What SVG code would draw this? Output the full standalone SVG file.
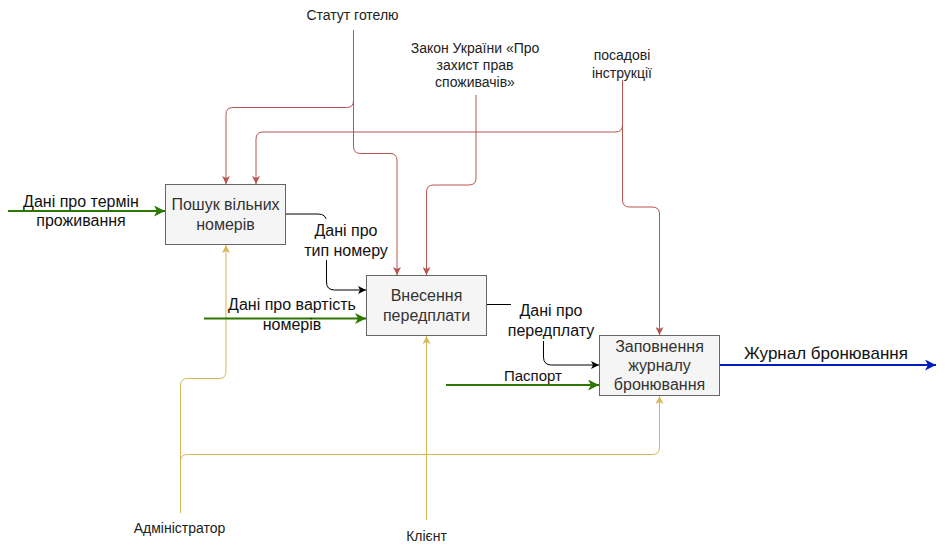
<svg xmlns="http://www.w3.org/2000/svg" width="945" height="552" viewBox="0 0 945 552">
<style>
text{font-family:"Liberation Sans",Arial,Helvetica,sans-serif;text-anchor:middle}
.box{fill:#f5f5f5;stroke:#666666;stroke-width:1}
.bt{font-size:16px;fill:#333333}
.lb{font-size:16px;fill:#111111}
.sm{font-size:14px;fill:#222222}
.red{fill:none;stroke:#b85450;stroke-width:1}
.yel{fill:none;stroke:#d6b656;stroke-width:1}
.grn{fill:none;stroke:#2d7600;stroke-width:2}
.blu{fill:none;stroke:#001dbc;stroke-width:2}
.blk{fill:none;stroke:#000000;stroke-width:1}
</style>
<defs>
<marker id="ar" viewBox="0 0 8 8" markerWidth="8" markerHeight="8" refX="8" refY="4" orient="auto" markerUnits="userSpaceOnUse"><path d="M0,0 L8,4 L0,8 L2,4 z" fill="#b85450"/></marker>
<marker id="ay" viewBox="0 0 8 8" markerWidth="8" markerHeight="8" refX="8" refY="4" orient="auto" markerUnits="userSpaceOnUse"><path d="M0,0 L8,4 L0,8 L2,4 z" fill="#d6b656"/></marker>
<marker id="ak" viewBox="0 0 8 8" markerWidth="8" markerHeight="8" refX="8" refY="4" orient="auto" markerUnits="userSpaceOnUse"><path d="M0,0 L8,4 L0,8 L2,4 z" fill="#000000"/></marker>
<marker id="ag" viewBox="0 0 11 11" markerWidth="11" markerHeight="11" refX="11" refY="5.5" orient="auto" markerUnits="userSpaceOnUse"><path d="M0,0 L11,5.5 L0,11 L3,5.5 z" fill="#2d7600"/></marker>
<marker id="ab" viewBox="0 0 11 11" markerWidth="11" markerHeight="11" refX="11" refY="5.5" orient="auto" markerUnits="userSpaceOnUse"><path d="M0,0 L11,5.5 L0,11 L3,5.5 z" fill="#001dbc"/></marker>
</defs>
<g id="connectors">
<path class="red" marker-end="url(#ar)" d="M353.5,30 V100.5 Q353.5,107.5 346.5,107.5 H233 Q226,107.5 226,114.5 V184"/>
<path class="red" marker-end="url(#ar)" d="M353.5,30 V146 Q353.5,153.5 360.5,153.5 H390 Q397,153.5 397,160.5 V275"/>
<path class="red" marker-end="url(#ar)" d="M622.5,80 V125 Q622.5,132 615.5,132 H263 Q256,132 256,139 V184"/>
<path class="red" marker-end="url(#ar)" d="M622.5,80 V200 Q622.5,207 629.5,207 H652 Q659.5,207 659.5,214 V335"/>
<path class="red" marker-end="url(#ar)" d="M476,95 V178 Q476,185 469,185 H433.5 Q426.5,185 426.5,192 V275"/>
<path class="yel" marker-end="url(#ay)" d="M180.5,513 V385.5 Q180.5,378.5 187.5,378.5 H219 Q226,378.5 226,371.5 V245"/>
<path class="yel" marker-end="url(#ay)" d="M180.5,513 V461.5 Q180.5,454.5 187.5,454.5 H652.5 Q659.5,454.5 659.5,447.5 V396"/>
<path class="yel" marker-end="url(#ay)" d="M426.5,520 V336"/>
<path class="grn" marker-end="url(#ag)" d="M8,211 H165"/>
<path class="grn" marker-end="url(#ag)" d="M204,318.5 H366"/>
<path class="grn" marker-end="url(#ag)" d="M446,385 H599"/>
<path class="blu" marker-end="url(#ab)" d="M720,365 H936"/>
<path class="blk" marker-end="url(#ak)" d="M286,214 H318 Q326.5,214 326.5,222 V282 Q326.5,290 334.5,290 H366"/>
<path class="blk" marker-end="url(#ak)" d="M486,304.5 H535 Q543.5,304.5 543.5,312.5 V357 Q543.5,365 551.5,365 H599"/>
</g>
<g id="edge-labels">
<text class="lb" x="81" y="206.5">Дані про термін</text>
<text class="lb" x="81" y="226">проживання</text>
<rect x="304" y="219" width="85" height="41" fill="#ffffff"/>
<text class="lb" x="346" y="235.5">Дані про</text>
<text class="lb" x="346" y="255.5">тип номеру</text>
<text class="lb" x="292" y="310">Дані про вартість</text>
<text class="lb" x="292" y="330">номерів</text>
<rect x="511" y="296" width="85" height="45" fill="#ffffff"/>
<text class="lb" x="551" y="316">Дані про</text>
<text class="lb" x="551" y="336">передплату</text>
<text class="lb" x="533" y="381" style="font-size:15px">Паспорт</text>
<text class="lb" x="826" y="359" style="font-size:17px">Журнал бронювання</text>
<text class="sm" x="352.5" y="20">Статут готелю</text>
<text class="sm" x="475" y="52.7">Закон України «Про</text>
<text class="sm" x="475" y="70">захист прав</text>
<text class="sm" x="475" y="86.7">споживачів»</text>
<text class="sm" x="622" y="60">посадові</text>
<text class="sm" x="622" y="77.5">інструкції</text>
<text class="sm" x="179.5" y="533">Адміністратор</text>
<text class="sm" x="426.5" y="541">Клієнт</text>
</g>
<g id="node-search">
<rect class="box" x="165.5" y="184.5" width="120" height="60"/>
<text class="bt" x="225.5" y="210">Пошук вільних</text>
<text class="bt" x="225.5" y="229.5">номерів</text>
</g>
<g id="node-prepay">
<rect class="box" x="366.5" y="275.5" width="120" height="60"/>
<text class="bt" x="426.5" y="301">Внесення</text>
<text class="bt" x="426.5" y="320.5">передплати</text>
</g>
<g id="node-journal">
<rect class="box" x="599.5" y="335.5" width="120" height="60"/>
<text class="bt" x="659.5" y="351.5">Заповнення</text>
<text class="bt" x="659.5" y="370.5">журналу</text>
<text class="bt" x="659.5" y="389.5">бронювання</text>
</g>
</svg>
